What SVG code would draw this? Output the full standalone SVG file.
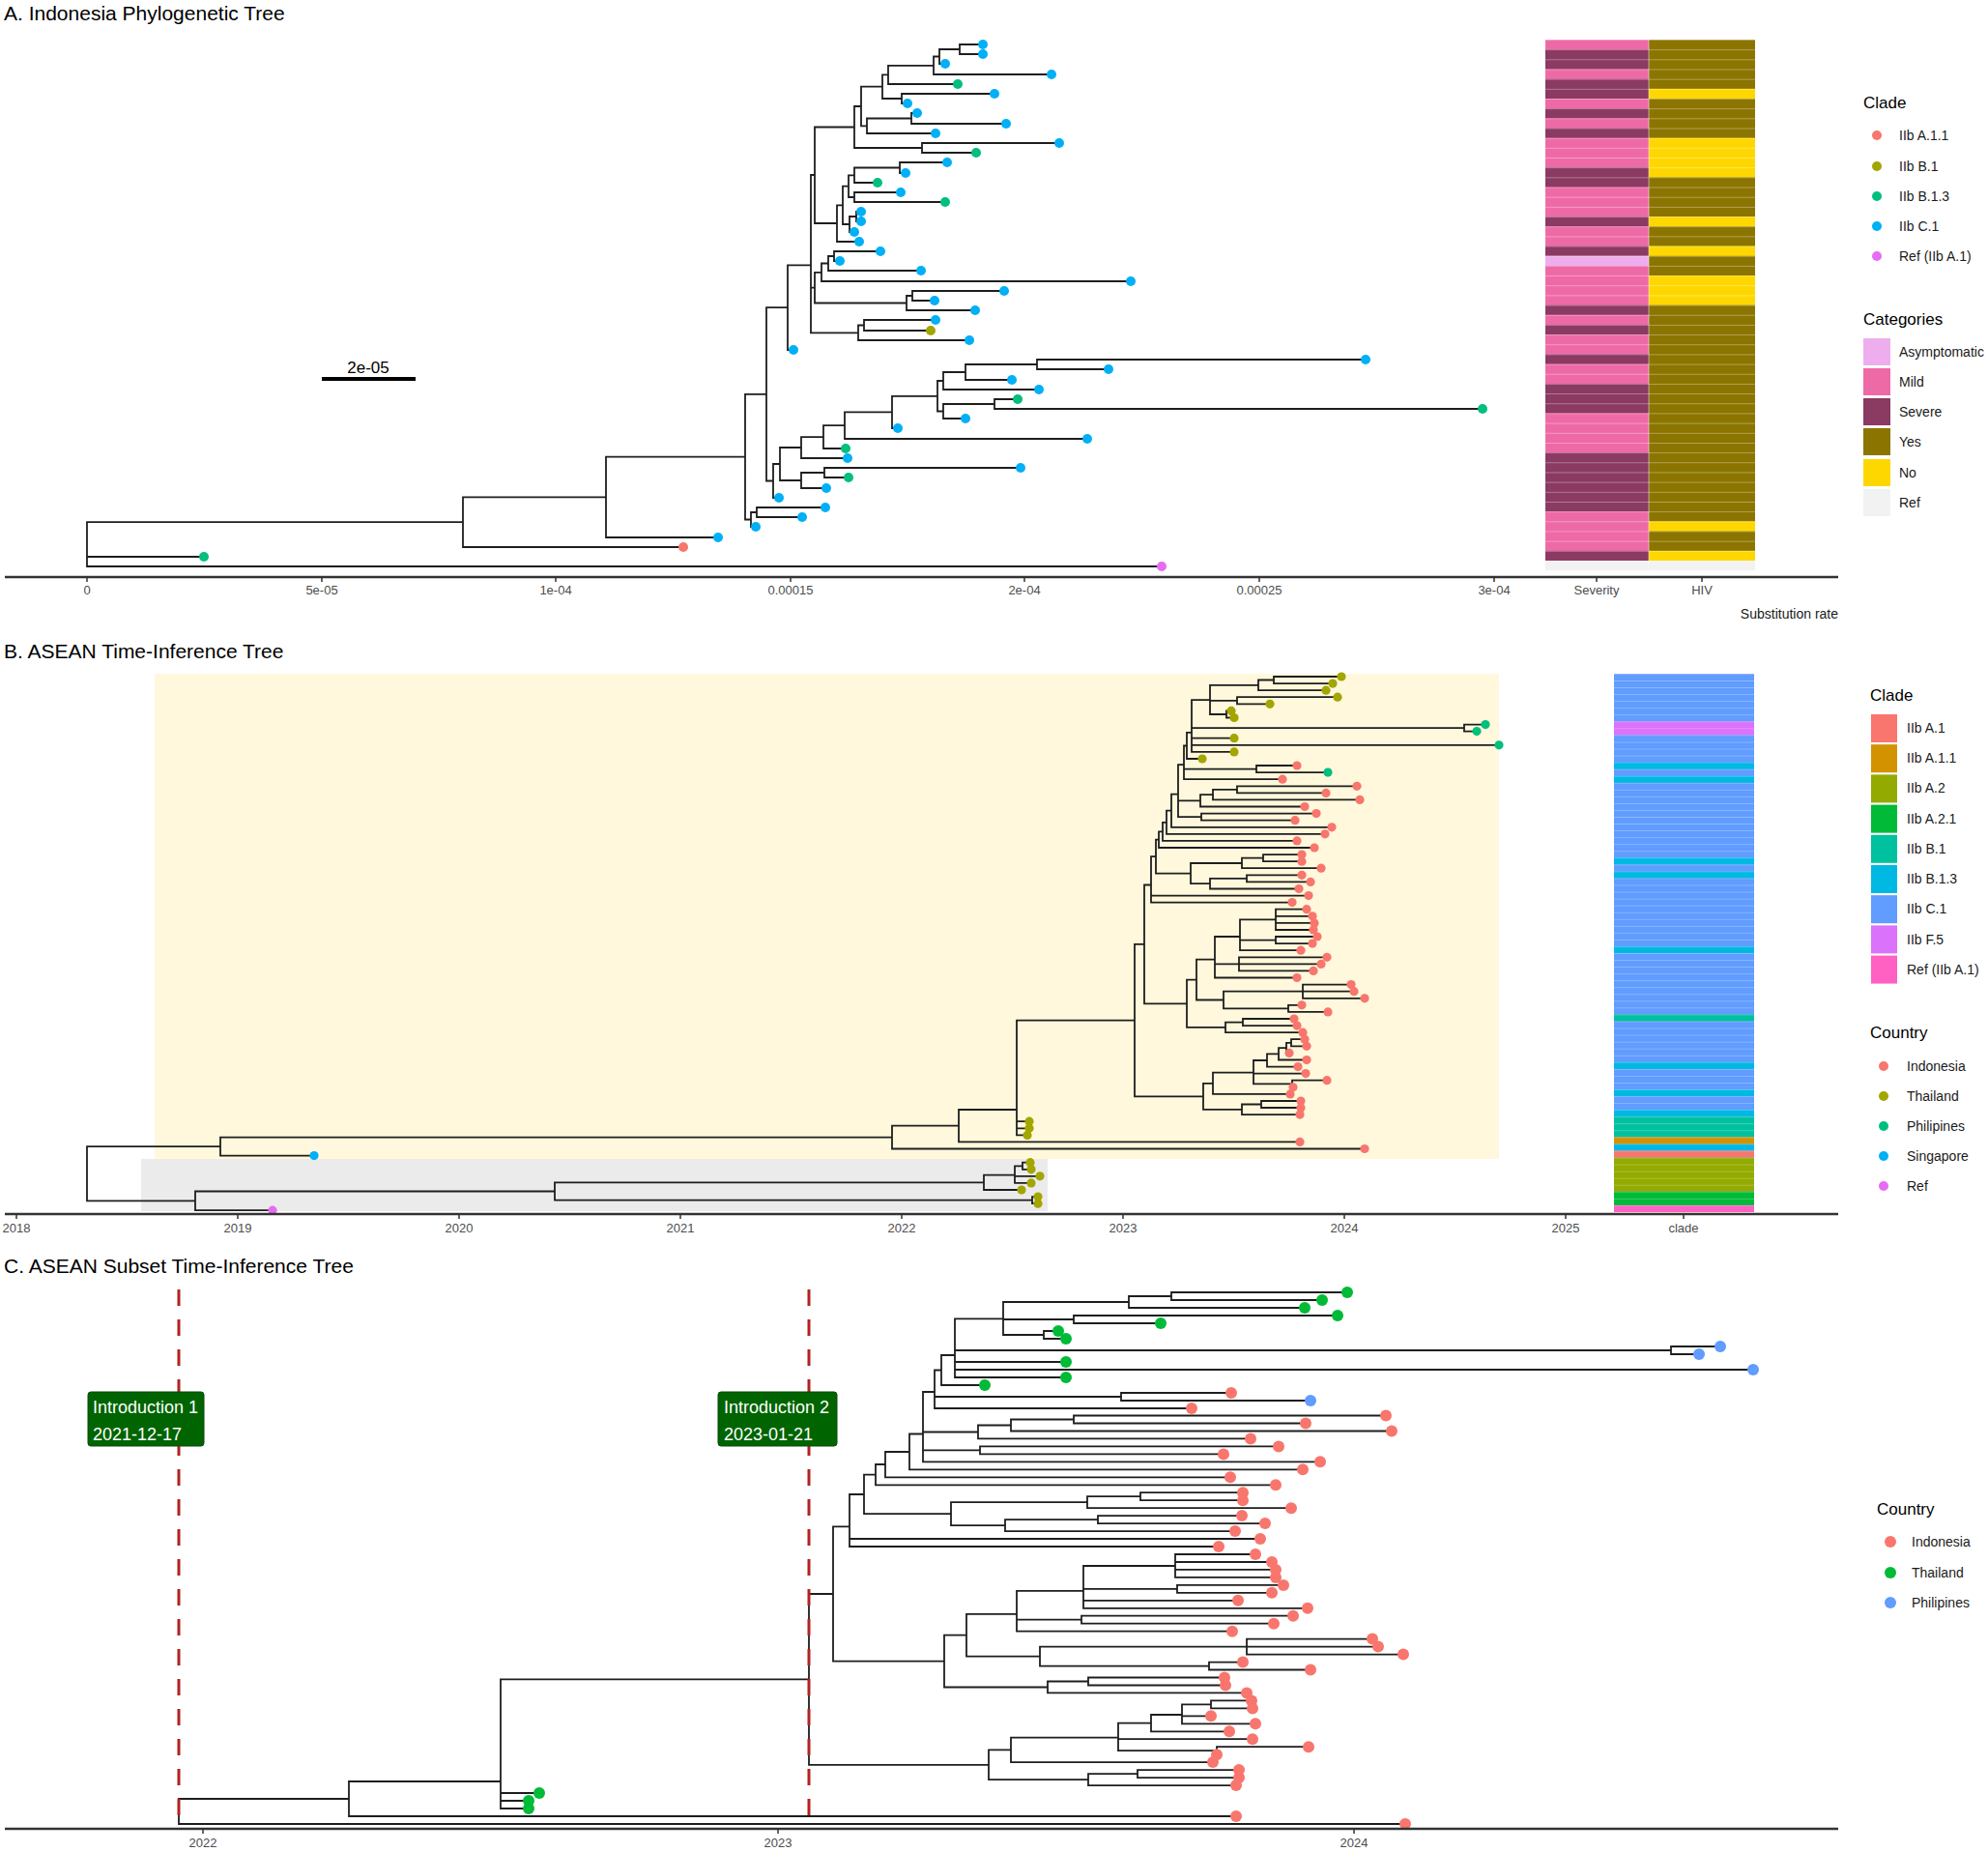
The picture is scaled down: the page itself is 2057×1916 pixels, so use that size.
<svg xmlns="http://www.w3.org/2000/svg" width="2057" height="1916" viewBox="0 0 2057 1916">
<style>
text{font-family:"Liberation Sans",Arial,sans-serif}
.br{fill:none;stroke:#1e1e1e;stroke-width:1.8;stroke-linecap:square}
.ax{stroke:#333;stroke-width:2.4}
.tk{stroke:#333;stroke-width:1.5}
.tl{font-size:13px;fill:#4d4d4d;text-anchor:middle}
.ttl{font-size:21px;fill:#000}
.lt{font-size:17px;fill:#000}
.ll{font-size:14px;fill:#1a1a1a}
.cR{fill:#F8766D}.cO{fill:#A3A500}.cG{fill:#00BF7D}.cB{fill:#00B0F6}.cP{fill:#E76BF3}.cT{fill:#00BA38}.cL{fill:#619CFF}
.dash{stroke:#B22222;stroke-width:3;stroke-dasharray:17 14}
.box{fill:#006400;stroke:#0a4a0a;stroke-width:1}
.bt{font-size:18px;fill:#fff}
</style>
<defs>
<pattern id="rowsA" x="0" y="41" width="20" height="10.17" patternUnits="userSpaceOnUse"><rect width="20" height="0.9" fill="#fff" fill-opacity="0.35"/></pattern>
<pattern id="rowsB" x="0" y="697" width="20" height="7.05" patternUnits="userSpaceOnUse"><rect width="20" height="0.8" fill="#fff" fill-opacity="0.3"/></pattern>
</defs>
<rect width="2057" height="1916" fill="#fff"/>

<!-- ============ PANEL A ============ -->
<text class="ttl" x="4" y="21">A. Indonesia Phylogenetic Tree</text>
<g id="A-connectors">
<path class="br" d="M993,46V56M993,46H1017M993,56H1017M972,51V66M972,51H993M972,66H978M966,58.5V77M966,58.5H972M966,77H1088M919,67.8V87M919,67.8H966M919,87H991M933,97V107M933,97H1029M933,107H939M913,77.4V102M913,77.4H919M913,102H933M943,117V128M943,117H949M943,128H1041M897,122.5V138M897,122.5H943M897,138H968M891,89.7V130.3M891,89.7H913M891,130.3H897M954,148V158M954,148H1096M954,158H1010M884,110V153M884,110H891M884,153H954M931,168V179M931,168H980M931,179H937M884,173.5V189M884,173.5H931M884,189H908M884,199V209M884,199H932M884,209H978M878,181.3V204M878,181.3H884M878,204H884M886,219V229M886,219H891M886,229H891M879,224V240M879,224H886M879,240H884M872,192.6V232M872,192.6H878M872,232H879M866,212.3V250M866,212.3H872M866,250H889M843,131.5V231M843,131.5H884M843,231H866M863,260V270M863,260H911M863,270H869M857,265V280M857,265H863M857,280H953M850,272.5V291M850,272.5H857M850,291H1170M944,301V311M944,301H1039M944,311H967M938,306V321M938,306H944M938,321H1009M843,281.8V313.5M843,281.8H850M843,313.5H938M894,331V342M894,331H968M894,342H963M888,336.5V352M888,336.5H894M888,352H1003M839,181V344.3M839,181H843M839,297.7H843M839,344.3H888M815,274.3V362M815,274.3H839M815,362H821M1073,372V382M1073,372H1413M1073,382H1147M999,377V393M999,377H1073M999,393H1047M976,385V403M976,385H999M976,403H1075M1029,413V423M1029,413H1053M1029,423H1534M976,418V433M976,418H1029M976,433H999M970,394V425.5M970,394H976M970,425.5H976M923,409.8V443M923,409.8H970M923,443H929M874,426.4V454M874,426.4H923M874,454H1125M852,440.2V464M852,440.2H874M852,464H875M829,452.1V474M829,452.1H852M829,474H877M853,484V494M853,484H1056M853,494H878M829,489V505M829,489H853M829,505H855M807,463V497M807,463H829M807,497H829M800,480V515M800,480H807M800,515H806M793,318.2V497.5M793,318.2H815M793,497.5H800M783,525V535M783,525H854M783,535H830M777,530V545M777,530H783M777,545H782M771,407.9V537.5M771,407.9H793M771,537.5H777M627,472.7V556M627,472.7H771M627,556H743M479,514.4V566M479,514.4H627M479,566H707M90,540.2V586M90,540.2H479M90,576H211M90,586H1202"/>
</g>
<g id="A-tips">
<g class="cB">
<circle cx="1017" cy="46" r="5"/><circle cx="1017" cy="56" r="5"/><circle cx="978" cy="66" r="5"/><circle cx="1088" cy="77" r="5"/><circle cx="1029" cy="97" r="5"/><circle cx="939" cy="107" r="5"/><circle cx="949" cy="117" r="5"/><circle cx="1041" cy="128" r="5"/><circle cx="968" cy="138" r="5"/><circle cx="1096" cy="148" r="5"/><circle cx="980" cy="168" r="5"/><circle cx="937" cy="179" r="5"/><circle cx="932" cy="199" r="5"/><circle cx="891" cy="219" r="5"/><circle cx="891" cy="229" r="5"/><circle cx="884" cy="240" r="5"/><circle cx="889" cy="250" r="5"/><circle cx="911" cy="260" r="5"/><circle cx="869" cy="270" r="5"/><circle cx="953" cy="280" r="5"/><circle cx="1170" cy="291" r="5"/><circle cx="1039" cy="301" r="5"/><circle cx="967" cy="311" r="5"/><circle cx="1009" cy="321" r="5"/><circle cx="968" cy="331" r="5"/><circle cx="1003" cy="352" r="5"/><circle cx="821" cy="362" r="5"/><circle cx="1413" cy="372" r="5"/><circle cx="1147" cy="382" r="5"/><circle cx="1047" cy="393" r="5"/><circle cx="1075" cy="403" r="5"/><circle cx="999" cy="433" r="5"/><circle cx="929" cy="443" r="5"/><circle cx="1125" cy="454" r="5"/><circle cx="877" cy="474" r="5"/><circle cx="1056" cy="484" r="5"/><circle cx="855" cy="505" r="5"/><circle cx="806" cy="515" r="5"/><circle cx="854" cy="525" r="5"/><circle cx="830" cy="535" r="5"/><circle cx="782" cy="545" r="5"/><circle cx="743" cy="556" r="5"/>
</g>
<g class="cG">
<circle cx="991" cy="87" r="5"/><circle cx="1010" cy="158" r="5"/><circle cx="908" cy="189" r="5"/><circle cx="978" cy="209" r="5"/><circle cx="1053" cy="413" r="5"/><circle cx="1534" cy="423" r="5"/><circle cx="875" cy="464" r="5"/><circle cx="878" cy="494" r="5"/><circle cx="211" cy="576" r="5"/>
</g>
<circle class="cO" cx="963" cy="342" r="5"/>
<circle class="cR" cx="707" cy="566" r="5"/>
<circle class="cP" cx="1202" cy="586" r="5"/>
</g>
<g id="A-scalebar">
<line x1="333" y1="392" x2="430" y2="392" stroke="#000" stroke-width="4"/>
<text x="381" y="386" font-size="17" text-anchor="middle" fill="#000">2e-05</text>
</g>
<g id="A-heatmap">
<rect x="1599" y="41" width="107" height="539" fill="#EE6AA7"/>
<g fill="#8B3A62">
<rect x="1599" y="51.17" width="107" height="20.34"/><rect x="1599" y="81.68" width="107" height="20.34"/><rect x="1599" y="112.19" width="107" height="10.17"/><rect x="1599" y="132.53" width="107" height="10.17"/><rect x="1599" y="173.21" width="107" height="20.34"/><rect x="1599" y="224.06" width="107" height="10.17"/><rect x="1599" y="254.57" width="107" height="10.17"/><rect x="1599" y="315.59" width="107" height="10.17"/><rect x="1599" y="335.93" width="107" height="10.17"/><rect x="1599" y="366.44" width="107" height="10.17"/><rect x="1599" y="396.95" width="107" height="30.51"/><rect x="1599" y="468.14" width="107" height="61.02"/><rect x="1599" y="569.84" width="107" height="10.17"/>
</g>
<rect x="1599" y="264.74" width="107" height="10.17" fill="#EEAEEE"/>
<rect x="1706" y="41" width="110" height="539" fill="#8B7500"/>
<g fill="#FFD700">
<rect x="1706" y="91.85" width="110" height="10.17"/><rect x="1706" y="142.7" width="110" height="40.68"/><rect x="1706" y="224.06" width="110" height="10.17"/><rect x="1706" y="254.57" width="110" height="10.17"/><rect x="1706" y="285.08" width="110" height="30.51"/><rect x="1706" y="539.33" width="110" height="10.17"/><rect x="1706" y="569.84" width="110" height="10.17"/>
</g>
<rect x="1599" y="580" width="217" height="10.2" fill="#F2F2F2"/>
<rect x="1599" y="41" width="217" height="549" fill="url(#rowsA)"/>
<line x1="1706" y1="41" x2="1706" y2="590" stroke="#fff" stroke-opacity="0.5" stroke-width="1"/>
</g>
<g id="A-axis">
<line class="ax" x1="5" y1="597" x2="1902" y2="597"/>
<path class="tk" d="M90,597v5M333,597v5M575,597v5M818,597v5M1060,597v5M1303,597v5M1546,597v5M1652,597v5M1761,597v5"/>
<text class="tl" x="90" y="615">0</text>
<text class="tl" x="333" y="615">5e-05</text>
<text class="tl" x="575" y="615">1e-04</text>
<text class="tl" x="818" y="615">0.00015</text>
<text class="tl" x="1060" y="615">2e-04</text>
<text class="tl" x="1303" y="615">0.00025</text>
<text class="tl" x="1546" y="615">3e-04</text>
<text class="tl" x="1652" y="615">Severity</text>
<text class="tl" x="1761" y="615">HIV</text>
<text x="1902" y="640" font-size="14" text-anchor="end" fill="#1a1a1a">Substitution rate</text>
</g>
<g id="A-legend">
<text class="lt" x="1928" y="112">Clade</text>
<circle class="cR" cx="1942" cy="140" r="5"/><text class="ll" x="1965" y="145">IIb A.1.1</text>
<circle class="cO" cx="1942" cy="172" r="5"/><text class="ll" x="1965" y="177">IIb B.1</text>
<circle class="cG" cx="1942" cy="203" r="5"/><text class="ll" x="1965" y="208">IIb B.1.3</text>
<circle class="cB" cx="1942" cy="234" r="5"/><text class="ll" x="1965" y="239">IIb C.1</text>
<circle class="cP" cx="1942" cy="265" r="5"/><text class="ll" x="1965" y="270">Ref (IIb A.1)</text>
<text class="lt" x="1928" y="336">Categories</text>
<rect x="1928" y="350" width="28" height="28" fill="#EEAEEE"/><text class="ll" x="1965" y="369">Asymptomatic</text>
<rect x="1928" y="381" width="28" height="28" fill="#EE6AA7"/><text class="ll" x="1965" y="400">Mild</text>
<rect x="1928" y="412" width="28" height="28" fill="#8B3A62"/><text class="ll" x="1965" y="431">Severe</text>
<rect x="1928" y="443" width="28" height="28" fill="#8B7500"/><text class="ll" x="1965" y="462">Yes</text>
<rect x="1928" y="475" width="28" height="28" fill="#FFD700"/><text class="ll" x="1965" y="494">No</text>
<rect x="1928" y="506" width="28" height="28" fill="#F2F2F2"/><text class="ll" x="1965" y="525">Ref</text>
</g>

<!-- ============ PANEL B ============ -->
<text class="ttl" x="4" y="681">B. ASEAN Time-Inference Tree</text>
<g id="B-highlights">
<rect x="160" y="697" width="1391" height="502" fill="#FFF8DC"/>
<rect x="146" y="1199" width="938" height="54" fill="#EBEBEB"/>
</g>
<g id="B-connectors">
<path class="br" stroke-width="1.6" d="M1318,700V707.1M1318,700H1388M1318,707.1H1379M1302,703.5V714.2M1302,703.5H1318M1302,714.2H1372M1280,721.2V728.3M1280,721.2H1384M1280,728.3H1314M1269,735.4V742.5M1269,735.4H1274M1269,742.5H1277M1252,708.9V739M1252,708.9H1302M1252,724.8H1280M1252,739H1269M1515,749.6V756.6M1515,749.6H1537M1515,756.6H1528M1233,724.2V777.9M1233,724.2H1252M1233,753.1H1515M1233,763.7H1277M1233,770.8H1551M1233,777.9H1277M1228,757.9V785M1228,757.9H1233M1228,785H1244M1300,792V799.1M1300,792H1342M1300,799.1H1374M1225,771.5V806.2M1225,771.5H1228M1225,795.6H1300M1225,806.2H1327M1280,813.3V820.4M1280,813.3H1404M1280,820.4H1372M1255,816.9V827.4M1255,816.9H1280M1255,827.4H1407M1242,822.2V834.5M1242,822.2H1255M1242,834.5H1350M1243,841.6V848.7M1243,841.6H1362M1243,848.7H1340M1219,791.1V845.2M1219,791.1H1225M1219,828.4H1242M1219,845.2H1243M1212,821.6V855.8M1212,821.6H1219M1212,855.8H1378M1207,838.7V862.8M1207,838.7H1212M1207,862.8H1371M1203,850.8V869.9M1203,850.8H1207M1203,869.9H1342M1199,860.4V877M1199,860.4H1203M1199,877H1360M1307,884.1V891.2M1307,884.1H1347M1307,891.2H1347M1285,887.7V898.2M1285,887.7H1307M1285,898.2H1367M1290,905.3V912.4M1290,905.3H1347M1290,912.4H1356M1252,908.9V919.5M1252,908.9H1290M1252,919.5H1344M1232,893V914.2M1232,893H1285M1232,914.2H1252M1196,868.7V903.6M1196,868.7H1199M1196,903.6H1232M1191,886.2V933.6M1191,886.2H1196M1191,926.6H1354M1191,933.6H1337M1320,940.7V962M1320,940.7H1352M1320,947.8H1358M1320,954.9H1360M1320,962H1359M1320,969V976.1M1320,969H1363M1320,976.1H1358M1283,951.4V983.2M1283,951.4H1320M1283,972.6H1320M1283,983.2H1346M1282,990.3V1004.4M1282,990.3H1373M1282,997.4H1367M1282,1004.4H1359M1257,969V1011.5M1257,969H1283M1257,997.4H1282M1257,1011.5H1342M1348,1018.6V1032.8M1348,1018.6H1398M1348,1025.7H1401M1348,1032.8H1412M1333,1039.8V1046.9M1333,1039.8H1347M1333,1046.9H1374M1266,1025.7V1043.4M1266,1025.7H1348M1266,1043.4H1333M1238,992.6V1034.5M1238,992.6H1257M1238,1034.5H1266M1286,1054V1061.1M1286,1054H1339M1286,1061.1H1342M1268,1057.6V1068.2M1268,1057.6H1286M1268,1068.2H1348M1228,1013.6V1062.9M1228,1013.6H1238M1228,1062.9H1268M1184,915.5V1038.3M1184,915.5H1191M1184,1038.3H1228M1336,1075.2V1082.3M1336,1075.2H1350M1336,1082.3H1352M1331,1078.8V1089.4M1331,1078.8H1336M1331,1089.4H1334M1323,1084.1V1096.5M1323,1084.1H1331M1323,1096.5H1352M1311,1090.3V1103.6M1311,1090.3H1323M1311,1103.6H1343M1337,1117.7V1124.8M1337,1117.7H1373M1337,1124.8H1338M1297,1097V1121.3M1297,1097H1311M1297,1110.6H1351M1297,1121.3H1337M1255,1109.6V1131.9M1255,1109.6H1297M1255,1131.9H1335M1305,1139V1146M1305,1139H1346M1305,1146H1346M1285,1142.5V1153.1M1285,1142.5H1305M1285,1153.1H1345M1245,1120.8V1147.8M1245,1120.8H1255M1245,1147.8H1285M1174,976.9V1134.3M1174,976.9H1184M1174,1134.3H1245M1052,1055.6V1174.4M1052,1055.6H1174M1052,1160.2H1065M1052,1167.3H1065M1052,1174.4H1063M992,1148V1181.4M992,1148H1052M992,1181.4H1345M923,1164.7V1188.5M923,1164.7H992M923,1188.5H1412M228,1176.6V1195.6M228,1176.6H923M228,1195.6H325M1058,1202.7V1209.8M1058,1202.7H1066M1058,1209.8H1067M1050,1206.3V1223.9M1050,1206.3H1058M1050,1216.8H1076M1050,1223.9H1067M1018,1215.7V1231M1018,1215.7H1050M1018,1231H1057M1068,1238.1V1245.2M1068,1238.1H1074M1068,1245.2H1074M574,1223.4V1241.7M574,1223.4H1018M574,1241.7H1068M202,1232.5V1252.2M202,1232.5H574M202,1252.2H282M90,1186.1V1242.4M90,1186.1H228M90,1242.4H202"/>
</g>
<g id="B-tips">
<g class="cO">
<circle cx="1388" cy="700" r="4.6"/><circle cx="1379" cy="707.1" r="4.6"/><circle cx="1372" cy="714.2" r="4.6"/><circle cx="1384" cy="721.2" r="4.6"/><circle cx="1314" cy="728.3" r="4.6"/><circle cx="1274" cy="735.4" r="4.6"/><circle cx="1277" cy="742.5" r="4.6"/><circle cx="1277" cy="763.7" r="4.6"/><circle cx="1277" cy="777.9" r="4.6"/><circle cx="1244" cy="785" r="4.6"/><circle cx="1065" cy="1160.2" r="4.6"/><circle cx="1065" cy="1167.3" r="4.6"/><circle cx="1063" cy="1174.4" r="4.6"/><circle cx="1066" cy="1202.7" r="4.6"/><circle cx="1067" cy="1209.8" r="4.6"/><circle cx="1076" cy="1216.8" r="4.6"/><circle cx="1067" cy="1223.9" r="4.6"/><circle cx="1057" cy="1231" r="4.6"/><circle cx="1074" cy="1238.1" r="4.6"/><circle cx="1074" cy="1245.2" r="4.6"/>
</g>
<g class="cG">
<circle cx="1537" cy="749.6" r="4.6"/><circle cx="1528" cy="756.6" r="4.6"/><circle cx="1551" cy="770.8" r="4.6"/><circle cx="1374" cy="799.1" r="4.6"/>
</g>
<g class="cR">
<circle cx="1342" cy="792" r="4.6"/><circle cx="1327" cy="806.2" r="4.6"/><circle cx="1404" cy="813.3" r="4.6"/><circle cx="1372" cy="820.4" r="4.6"/><circle cx="1407" cy="827.4" r="4.6"/><circle cx="1350" cy="834.5" r="4.6"/><circle cx="1362" cy="841.6" r="4.6"/><circle cx="1340" cy="848.7" r="4.6"/><circle cx="1378" cy="855.8" r="4.6"/><circle cx="1371" cy="862.8" r="4.6"/><circle cx="1342" cy="869.9" r="4.6"/><circle cx="1360" cy="877" r="4.6"/><circle cx="1347" cy="884.1" r="4.6"/><circle cx="1347" cy="891.2" r="4.6"/><circle cx="1367" cy="898.2" r="4.6"/><circle cx="1347" cy="905.3" r="4.6"/><circle cx="1356" cy="912.4" r="4.6"/><circle cx="1344" cy="919.5" r="4.6"/><circle cx="1354" cy="926.6" r="4.6"/><circle cx="1337" cy="933.6" r="4.6"/><circle cx="1352" cy="940.7" r="4.6"/><circle cx="1358" cy="947.8" r="4.6"/><circle cx="1360" cy="954.9" r="4.6"/><circle cx="1359" cy="962" r="4.6"/><circle cx="1363" cy="969" r="4.6"/><circle cx="1358" cy="976.1" r="4.6"/><circle cx="1346" cy="983.2" r="4.6"/><circle cx="1373" cy="990.3" r="4.6"/><circle cx="1367" cy="997.4" r="4.6"/><circle cx="1359" cy="1004.4" r="4.6"/><circle cx="1342" cy="1011.5" r="4.6"/><circle cx="1398" cy="1018.6" r="4.6"/><circle cx="1401" cy="1025.7" r="4.6"/><circle cx="1412" cy="1032.8" r="4.6"/><circle cx="1347" cy="1039.8" r="4.6"/><circle cx="1374" cy="1046.9" r="4.6"/><circle cx="1339" cy="1054" r="4.6"/><circle cx="1342" cy="1061.1" r="4.6"/><circle cx="1348" cy="1068.2" r="4.6"/><circle cx="1350" cy="1075.2" r="4.6"/><circle cx="1352" cy="1082.3" r="4.6"/><circle cx="1334" cy="1089.4" r="4.6"/><circle cx="1352" cy="1096.5" r="4.6"/><circle cx="1343" cy="1103.6" r="4.6"/><circle cx="1351" cy="1110.6" r="4.6"/><circle cx="1373" cy="1117.7" r="4.6"/><circle cx="1338" cy="1124.8" r="4.6"/><circle cx="1335" cy="1131.9" r="4.6"/><circle cx="1346" cy="1139" r="4.6"/><circle cx="1346" cy="1146" r="4.6"/><circle cx="1345" cy="1153.1" r="4.6"/><circle cx="1345" cy="1181.4" r="4.6"/><circle cx="1412" cy="1188.5" r="4.6"/>
</g>
<circle class="cB" cx="325" cy="1195.6" r="4.6"/>
<circle class="cP" cx="282" cy="1252.2" r="4.6"/>
</g>
<g id="B-heatmap">
<rect x="1670" y="697" width="145" height="557" fill="#619CFF"/>
<rect x="1670" y="746.4" width="145" height="14.1" fill="#DB72FB"/>
<g fill="#00B9E3">
<rect x="1670" y="788.7" width="145" height="7.05"/><rect x="1670" y="802.8" width="145" height="7.05"/><rect x="1670" y="887.4" width="145" height="7.05"/><rect x="1670" y="901.5" width="145" height="7.05"/><rect x="1670" y="979" width="145" height="7.05"/><rect x="1670" y="1098.9" width="145" height="7.05"/><rect x="1670" y="1127.1" width="145" height="7.05"/><rect x="1670" y="1148.2" width="145" height="7.05"/><rect x="1670" y="1183.5" width="145" height="7.05"/>
</g>
<g fill="#00C19F">
<rect x="1670" y="1049.5" width="145" height="7.05"/><rect x="1670" y="1155.3" width="145" height="21.1"/>
</g>
<rect x="1670" y="1176.4" width="145" height="7.05" fill="#D39200"/>
<rect x="1670" y="1190.5" width="145" height="7.05" fill="#F8766D"/>
<rect x="1670" y="1197.6" width="145" height="35.2" fill="#93AA00"/>
<rect x="1670" y="1232.8" width="145" height="14.1" fill="#00BA38"/>
<rect x="1670" y="1246.9" width="145" height="7.1" fill="#FF61C3"/>
<rect x="1670" y="697" width="145" height="557" fill="url(#rowsB)"/>
</g>
<g id="B-axis">
<line class="ax" x1="5" y1="1256" x2="1902" y2="1256"/>
<path class="tk" d="M17,1256v5M246,1256v5M475,1256v5M704,1256v5M933,1256v5M1162,1256v5M1391,1256v5M1620,1256v5M1742,1256v5"/>
<text class="tl" x="17" y="1275">2018</text>
<text class="tl" x="246" y="1275">2019</text>
<text class="tl" x="475" y="1275">2020</text>
<text class="tl" x="704" y="1275">2021</text>
<text class="tl" x="933" y="1275">2022</text>
<text class="tl" x="1162" y="1275">2023</text>
<text class="tl" x="1391" y="1275">2024</text>
<text class="tl" x="1620" y="1275">2025</text>
<text class="tl" x="1742" y="1275">clade</text>
</g>
<g id="B-legend">
<text class="lt" x="1935" y="725">Clade</text>
<rect x="1936" y="739" width="27" height="29" fill="#F8766D"/><text class="ll" x="1973" y="758">IIb A.1</text>
<rect x="1936" y="770.2" width="27" height="29" fill="#D39200"/><text class="ll" x="1973" y="789">IIb A.1.1</text>
<rect x="1936" y="801.4" width="27" height="29" fill="#93AA00"/><text class="ll" x="1973" y="820">IIb A.2</text>
<rect x="1936" y="832.6" width="27" height="29" fill="#00BA38"/><text class="ll" x="1973" y="852">IIb A.2.1</text>
<rect x="1936" y="863.8" width="27" height="29" fill="#00C19F"/><text class="ll" x="1973" y="883">IIb B.1</text>
<rect x="1936" y="895" width="27" height="29" fill="#00B9E3"/><text class="ll" x="1973" y="914">IIb B.1.3</text>
<rect x="1936" y="926.2" width="27" height="29" fill="#619CFF"/><text class="ll" x="1973" y="945">IIb C.1</text>
<rect x="1936" y="957.4" width="27" height="29" fill="#DB72FB"/><text class="ll" x="1973" y="977">IIb F.5</text>
<rect x="1936" y="988.6" width="27" height="29" fill="#FF61C3"/><text class="ll" x="1973" y="1008">Ref (IIb A.1)</text>
<text class="lt" x="1935" y="1074">Country</text>
<circle class="cR" cx="1949" cy="1103" r="5"/><text class="ll" x="1973" y="1108">Indonesia</text>
<circle class="cO" cx="1949" cy="1134" r="5"/><text class="ll" x="1973" y="1139">Thailand</text>
<circle class="cG" cx="1949" cy="1165" r="5"/><text class="ll" x="1973" y="1170">Philipines</text>
<circle class="cB" cx="1949" cy="1196" r="5"/><text class="ll" x="1973" y="1201">Singapore</text>
<circle class="cP" cx="1949" cy="1227" r="5"/><text class="ll" x="1973" y="1232">Ref</text>
</g>

<!-- ============ PANEL C ============ -->
<text class="ttl" x="4" y="1317">C. ASEAN Subset Time-Inference Tree</text>
<g id="C-connectors">
<path class="br" d="M1212,1337V1345M1212,1337H1394M1212,1345H1368M1168,1341V1353M1168,1341H1212M1168,1353H1350M1111,1361V1369M1111,1361H1384M1111,1369H1201M1080,1377V1385M1080,1377H1095M1080,1385H1103M1038,1347V1381M1038,1347H1168M1038,1365H1111M1038,1381H1080M1729,1393V1401M1729,1393H1780M1729,1401H1758M988,1364.3V1425M988,1364.3H1038M988,1397H1729M988,1409H1103M988,1417H1814M988,1425H1103M974,1402V1433M974,1402H988M974,1433H1019M1160,1441V1449M1160,1441H1274M1160,1449H1356M967,1417.5V1457M967,1417.5H974M967,1445H1160M967,1457H1233M1111,1464.5V1472.5M1111,1464.5H1434M1111,1472.5H1351M1046,1468.5V1480.5M1046,1468.5H1111M1046,1480.5H1440M1012,1474.5V1488.4M1012,1474.5H1046M1012,1488.4H1294M1014,1496.4V1504.4M1014,1496.4H1323M1014,1504.4H1266M955,1440V1512.3M955,1440H967M955,1481.5H1012M955,1500.4H1014M955,1512.3H1366M941,1483.5V1520.3M941,1483.5H955M941,1520.3H1348M916,1502V1528.3M916,1502H941M916,1528.3H1273M906,1515V1536.3M906,1515H916M906,1536.3H1320M1180,1544.2V1552.2M1180,1544.2H1286M1180,1552.2H1286M1125,1548.2V1560.2M1125,1548.2H1180M1125,1560.2H1336M1136,1568.1V1576.1M1136,1568.1H1285M1136,1576.1H1309M1040,1572.1V1584.1M1040,1572.1H1136M1040,1584.1H1278M984,1554.2V1578.1M984,1554.2H1125M984,1578.1H1040M894,1525.7V1566.2M894,1525.7H906M894,1566.2H984M879,1546V1600M879,1546H894M879,1592H1304M879,1600H1261M1216,1608V1631.9M1216,1608H1299M1216,1616H1316M1216,1623.9H1320M1216,1631.9H1320M1218,1639.9V1647.8M1218,1639.9H1328M1218,1647.8H1316M1121,1620V1663.8M1121,1620H1216M1121,1643.9H1218M1121,1655.8H1281M1121,1663.8H1353M1119,1671.7V1679.7M1119,1671.7H1338M1119,1679.7H1318M1052,1645.9V1687.7M1052,1645.9H1121M1052,1675.7H1119M1052,1687.7H1275M1290,1695.6V1711.6M1290,1695.6H1420M1290,1703.6H1426M1290,1711.6H1452M1251,1719.6V1727.5M1251,1719.6H1286M1251,1727.5H1356M1076,1703.6V1723.6M1076,1703.6H1290M1076,1723.6H1251M1000,1669.8V1713.6M1000,1669.8H1052M1000,1713.6H1076M1126,1735.5V1743.5M1126,1735.5H1267M1126,1743.5H1268M1084,1739.5V1751.4M1084,1739.5H1126M1084,1751.4H1290M977,1691.7V1745.5M977,1691.7H1000M977,1745.5H1084M862,1579.3V1718.6M862,1579.3H879M862,1718.6H977M1253,1759.4V1767.4M1253,1759.4H1295M1253,1767.4H1296M1223,1763.4V1783.3M1223,1763.4H1253M1223,1775.3H1253M1223,1783.3H1299M1191,1774V1791.3M1191,1774H1223M1191,1791.3H1272M1259,1807.2V1815.2M1259,1807.2H1354M1157,1782.7V1811.2M1157,1782.7H1191M1157,1799.2H1296M1157,1811.2H1259M1046,1797.7V1823.1M1046,1797.7H1157M1046,1823.1H1255M1177,1831.1V1839.1M1177,1831.1H1282M1177,1839.1H1282M1126,1835.1V1847.1M1126,1835.1H1177M1126,1847.1H1279M1023,1810.4V1841.1M1023,1810.4H1046M1023,1841.1H1126M837,1649V1825.8M837,1649H862M837,1825.8H1023M518,1737.4V1871M518,1737.4H837M518,1855H558M518,1863H547M518,1871H547M361,1843V1879M361,1843H518M361,1879H1279M185,1861V1887M185,1861H361M185,1887H1454"/>
</g>
<g id="C-tips">
<g class="cT">
<circle cx="1394" cy="1337" r="6"/><circle cx="1368" cy="1345" r="6"/><circle cx="1350" cy="1353" r="6"/><circle cx="1384" cy="1361" r="6"/><circle cx="1201" cy="1369" r="6"/><circle cx="1095" cy="1377" r="6"/><circle cx="1103" cy="1385" r="6"/><circle cx="1103" cy="1409" r="6"/><circle cx="1103" cy="1425" r="6"/><circle cx="1019" cy="1433" r="6"/><circle cx="558" cy="1855" r="6"/><circle cx="547" cy="1863" r="6"/><circle cx="547" cy="1871" r="6"/>
</g>
<g class="cL">
<circle cx="1780" cy="1393" r="6"/><circle cx="1758" cy="1401" r="6"/><circle cx="1814" cy="1417" r="6"/><circle cx="1356" cy="1449" r="6"/>
</g>
<g class="cR">
<circle cx="1274" cy="1441" r="6"/><circle cx="1233" cy="1457" r="6"/><circle cx="1434" cy="1464.5" r="6"/><circle cx="1351" cy="1472.5" r="6"/><circle cx="1440" cy="1480.5" r="6"/><circle cx="1294" cy="1488.4" r="6"/><circle cx="1323" cy="1496.4" r="6"/><circle cx="1266" cy="1504.4" r="6"/><circle cx="1366" cy="1512.3" r="6"/><circle cx="1348" cy="1520.3" r="6"/><circle cx="1273" cy="1528.3" r="6"/><circle cx="1320" cy="1536.3" r="6"/><circle cx="1286" cy="1544.2" r="6"/><circle cx="1286" cy="1552.2" r="6"/><circle cx="1336" cy="1560.2" r="6"/><circle cx="1285" cy="1568.1" r="6"/><circle cx="1309" cy="1576.1" r="6"/><circle cx="1278" cy="1584.1" r="6"/><circle cx="1304" cy="1592" r="6"/><circle cx="1261" cy="1600" r="6"/><circle cx="1299" cy="1608" r="6"/><circle cx="1316" cy="1616" r="6"/><circle cx="1320" cy="1623.9" r="6"/><circle cx="1320" cy="1631.9" r="6"/><circle cx="1328" cy="1639.9" r="6"/><circle cx="1316" cy="1647.8" r="6"/><circle cx="1281" cy="1655.8" r="6"/><circle cx="1353" cy="1663.8" r="6"/><circle cx="1338" cy="1671.7" r="6"/><circle cx="1318" cy="1679.7" r="6"/><circle cx="1275" cy="1687.7" r="6"/><circle cx="1420" cy="1695.6" r="6"/><circle cx="1426" cy="1703.6" r="6"/><circle cx="1452" cy="1711.6" r="6"/><circle cx="1286" cy="1719.6" r="6"/><circle cx="1356" cy="1727.5" r="6"/><circle cx="1267" cy="1735.5" r="6"/><circle cx="1268" cy="1743.5" r="6"/><circle cx="1290" cy="1751.4" r="6"/><circle cx="1295" cy="1759.4" r="6"/><circle cx="1296" cy="1767.4" r="6"/><circle cx="1253" cy="1775.3" r="6"/><circle cx="1299" cy="1783.3" r="6"/><circle cx="1272" cy="1791.3" r="6"/><circle cx="1296" cy="1799.2" r="6"/><circle cx="1354" cy="1807.2" r="6"/><circle cx="1259" cy="1815.2" r="6"/><circle cx="1255" cy="1823.1" r="6"/><circle cx="1282" cy="1831.1" r="6"/><circle cx="1282" cy="1839.1" r="6"/><circle cx="1279" cy="1847.1" r="6"/><circle cx="1279" cy="1879" r="6"/><circle cx="1454" cy="1887" r="6"/>
</g>
</g>
<g id="C-introductions">
<line class="dash" x1="185" y1="1334" x2="185" y2="1892"/>
<line class="dash" x1="837" y1="1334" x2="837" y2="1892"/>
<g id="intro1">
<rect class="box" x="91" y="1440" width="120" height="56" rx="3"/>
<text class="bt" x="96" y="1462">Introduction 1</text>
<text class="bt" x="96" y="1490">2021-12-17</text>
</g>
<g id="intro2">
<rect class="box" x="743" y="1440" width="123" height="56" rx="3"/>
<text class="bt" x="749" y="1462">Introduction 2</text>
<text class="bt" x="749" y="1490">2023-01-21</text>
</g>
</g>
<g id="C-axis">
<line class="ax" x1="5" y1="1892" x2="1902" y2="1892"/>
<path class="tk" d="M210,1892v5M805,1892v5M1401,1892v5"/>
<text class="tl" x="210" y="1911">2022</text>
<text class="tl" x="805" y="1911">2023</text>
<text class="tl" x="1401" y="1911">2024</text>
</g>
<g id="C-legend">
<text class="lt" x="1942" y="1567">Country</text>
<circle class="cR" cx="1956" cy="1595" r="6"/><text class="ll" x="1978" y="1600">Indonesia</text>
<circle class="cT" cx="1956" cy="1627" r="6"/><text class="ll" x="1978" y="1632">Thailand</text>
<circle class="cL" cx="1956" cy="1658" r="6"/><text class="ll" x="1978" y="1663">Philipines</text>
</g>
</svg>
